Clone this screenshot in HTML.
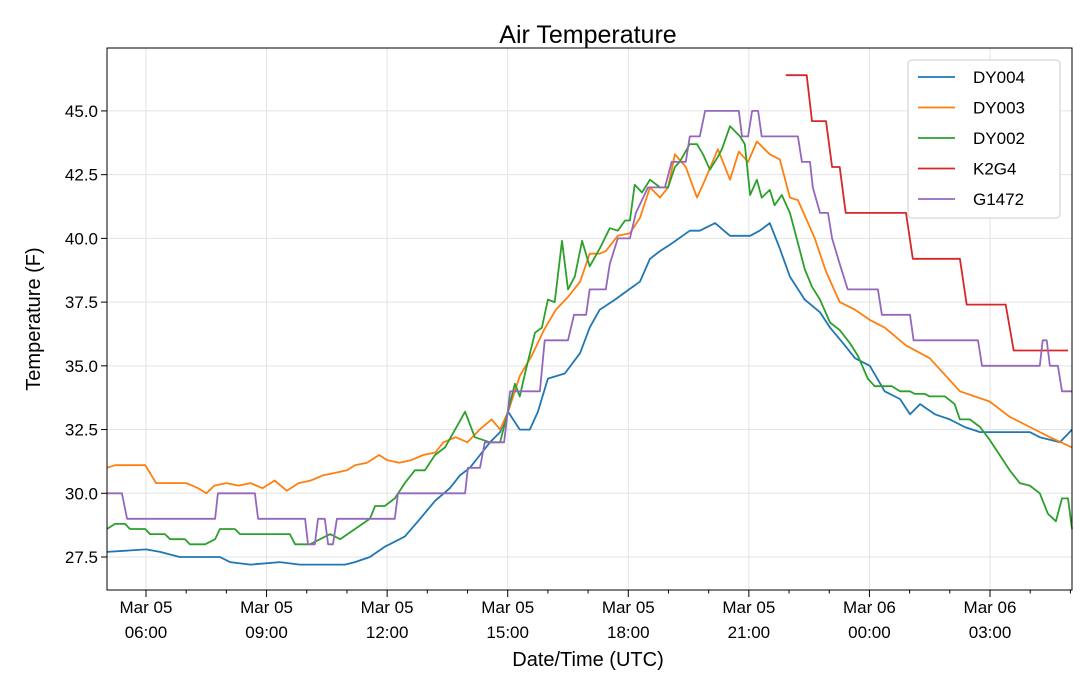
<!DOCTYPE html>
<html><head><meta charset="utf-8">
<style>
html,body{margin:0;padding:0;background:#fff;}
svg{display:block;font-family:"Liberation Sans","DejaVu Sans",sans-serif;}
</style></head>
<body>
<svg id="chart" width="1080" height="673" viewBox="0 0 1080 673" xmlns="http://www.w3.org/2000/svg">
<rect x="0" y="0" width="1080" height="673" fill="#fff"/>
<text x="588" y="43" text-anchor="middle" font-size="25">Air Temperature</text>
<text x="588" y="666" text-anchor="middle" font-size="20">Date/Time (UTC)</text>
<text transform="translate(40,319) rotate(-90)" text-anchor="middle" font-size="20">Temperature (F)</text>
<g id="grid"></g>
<g id="series"></g>
<rect x="107" y="48" width="965" height="542" fill="none" stroke="#000" stroke-width="1"/>
<g id="axes"></g>
<g id="legend"></g>
</svg>
<script>
const NS="http://www.w3.org/2000/svg";
// times in hours since Mar 05 00:00 UTC, values in °F
const dy004T=[5.03,6.0,6.35,6.84,7.84,8.09,8.6,9.33,9.83,10.95,11.2,11.57,11.94,12.44,12.82,13.19,13.56,13.81,14.06,14.31,14.56,14.81,15.01,15.3,15.55,15.75,16.0,16.42,16.8,17.04,17.29,17.67,18.02,18.29,18.54,18.79,19.08,19.53,19.78,20.16,20.53,21.03,21.27,21.52,21.77,22.02,22.39,22.77,23.02,23.39,23.64,24.01,24.38,24.76,25.01,25.26,25.63,26.0,26.37,26.75,27.24,27.99,28.24,28.74,29.04];
const dy004V=[27.7,27.8,27.7,27.5,27.5,27.3,27.2,27.3,27.2,27.2,27.3,27.5,27.9,28.3,29.0,29.7,30.2,30.7,31.0,31.5,32.0,32.4,33.2,32.5,32.5,33.2,34.5,34.7,35.5,36.5,37.2,37.6,38.0,38.3,39.2,39.5,39.8,40.3,40.3,40.6,40.1,40.1,40.3,40.6,39.6,38.5,37.6,37.1,36.5,35.8,35.3,35.0,34.0,33.7,33.1,33.5,33.1,32.9,32.6,32.4,32.4,32.4,32.2,32.0,32.5];
const dy003T=[5.03,5.23,5.98,6.1,6.25,7.0,7.3,7.5,7.7,8.0,8.3,8.6,8.9,9.2,9.5,9.8,10.1,10.4,10.7,11.0,11.2,11.5,11.8,12.0,12.3,12.6,12.9,13.2,13.4,13.7,14.0,14.3,14.6,14.81,15.01,15.3,15.6,15.9,16.2,16.5,16.8,17.04,17.29,17.44,17.74,18.04,18.29,18.54,18.79,18.99,19.16,19.43,19.71,19.91,20.23,20.53,20.75,20.98,21.2,21.52,21.77,22.02,22.22,22.64,22.92,23.26,23.64,24.01,24.38,24.91,25.5,26.25,26.99,27.49,27.99,28.49,29.04];
const dy003V=[31.0,31.1,31.1,30.8,30.4,30.4,30.2,30.0,30.3,30.4,30.3,30.4,30.2,30.5,30.1,30.4,30.5,30.7,30.8,30.9,31.1,31.2,31.5,31.3,31.2,31.3,31.5,31.6,32.0,32.2,32.0,32.5,32.9,32.5,33.2,34.6,35.4,36.4,37.2,37.7,38.3,39.4,39.4,39.5,40.1,40.2,40.8,42.0,41.6,42.0,43.3,42.8,41.6,42.3,43.5,42.3,43.4,43.0,43.8,43.3,43.1,41.6,41.5,40.0,38.7,37.5,37.2,36.8,36.5,35.8,35.3,34.0,33.6,33.0,32.6,32.2,31.8];
const dy002T=[5.03,5.23,5.48,5.6,5.98,6.1,6.47,6.6,6.97,7.09,7.47,7.72,7.84,8.21,8.34,9.58,9.71,10.08,10.33,10.58,10.83,11.2,11.57,11.7,11.94,12.19,12.44,12.69,12.94,13.19,13.44,13.69,13.94,14.18,14.56,14.81,15.18,15.3,15.43,15.68,15.85,16.0,16.17,16.35,16.5,16.67,16.85,17.04,17.29,17.54,17.74,17.92,18.04,18.16,18.34,18.54,18.79,18.99,19.16,19.28,19.53,19.71,19.86,20.03,20.23,20.33,20.53,20.78,20.9,21.03,21.2,21.32,21.52,21.64,21.82,22.02,22.19,22.39,22.57,22.77,23.02,23.26,23.51,23.71,23.96,24.13,24.56,24.76,25.01,25.13,25.38,25.5,25.88,26.12,26.25,26.5,26.75,26.99,27.24,27.49,27.74,27.99,28.24,28.44,28.64,28.79,28.94,29.04];
const dy002V=[28.6,28.8,28.8,28.6,28.6,28.4,28.4,28.2,28.2,28.0,28.0,28.2,28.6,28.6,28.4,28.4,28.0,28.0,28.2,28.4,28.2,28.6,29.0,29.5,29.5,29.8,30.4,30.9,30.9,31.5,31.8,32.5,33.2,32.2,32.0,32.0,34.3,33.8,34.7,36.3,36.5,37.6,37.5,39.9,38.0,38.5,39.9,38.9,39.6,40.4,40.3,40.7,40.7,42.1,41.8,42.3,42.0,42.0,42.8,43.0,43.7,43.7,43.3,42.7,43.2,43.5,44.4,44.0,43.7,41.7,42.3,41.6,41.9,41.3,41.7,41.0,40.0,38.8,38.1,37.6,36.7,36.4,35.9,35.4,34.5,34.2,34.2,34.0,34.0,33.9,33.9,33.8,33.8,33.5,32.9,32.9,32.6,32.1,31.5,30.9,30.4,30.3,30.0,29.2,28.9,29.8,29.8,28.6];
const k2g4T=[21.92,22.44,22.57,22.92,23.07,23.26,23.41,24.91,25.08,26.25,26.42,27.39,27.59,28.94];
const k2g4V=[46.4,46.4,44.6,44.6,42.8,42.8,41.0,41.0,39.2,39.2,37.4,37.4,35.6,35.6];
const g1472T=[5.03,5.4,5.53,7.72,7.79,8.71,8.79,9.96,10.03,10.2,10.28,10.45,10.53,10.65,10.75,12.19,12.27,13.94,14.01,14.31,14.43,14.91,15.06,15.8,15.92,16.5,16.65,16.95,17.04,17.44,17.54,17.74,18.04,18.19,18.49,18.91,19.08,19.43,19.53,19.78,19.91,20.75,20.83,20.98,21.08,21.23,21.32,22.22,22.32,22.52,22.59,22.77,22.97,23.07,23.26,23.46,24.21,24.31,25.01,25.1,26.7,26.8,28.24,28.31,28.41,28.49,28.69,28.79,29.04];
const g1472V=[30,30,29,29,30,30,29,29,28,28,29,29,28,28,29,29,30,30,31,31,32,32,34,34,36,36,37,37,38,38,39,40,40,41,42,42,43,43,44,44,45,45,44,44,45,45,44,44,43,43,42,41,41,40,39,38,38,37,37,36,36,35,35,36,36,35,35,34,34];
const seriesNames=["DY004","DY003","DY002","K2G4"," G1472"];
const seriesColors=["#1f77b4","#ff7f0e","#2ca02c","#d62728","#9467bd"];
const yTicks=[27.5,30.0,32.5,35.0,37.5,40.0,42.5,45.0];
const xTickHours=[6,9,12,15,18,21,24,27];
const xTickDates=["Mar 05","Mar 05","Mar 05","Mar 05","Mar 05","Mar 05","Mar 06","Mar 06"];
const xTickTimes=["06:00","09:00","12:00","15:00","18:00","21:00","00:00","03:00"];

const L=107,R=1072,T=48,B=590;
const xMin=5.03,xMax=29.04;
const X=h=>L+(h-xMin)/(xMax-xMin)*(R-L);
const Y=v=>557-(v-27.5)*25.49;
function mk(tag,attrs,parent){const e=document.createElementNS(NS,tag);for(const k in attrs)e.setAttribute(k,attrs[k]);parent.appendChild(e);return e;}
const grid=document.getElementById('grid'),axes=document.getElementById('axes'),ser=document.getElementById('series'),leg=document.getElementById('legend');
yTicks.forEach(v=>{
  const g=mk('line',{x1:L,x2:R,y1:Y(v),y2:Y(v),stroke:'#e3e3e3','stroke-width':1},grid);
  
  
  mk('line',{x1:L-6,x2:L,y1:Y(v),y2:Y(v),stroke:'#000'},axes);
  const t=mk('text',{x:L-9,y:Y(v)+6,'text-anchor':'end','font-size':17},axes);
  t.textContent=v.toFixed(1);
  
  
});
for(let h=6;h<=29;h++){
  if(xTickHours.indexOf(h)<0) mk('line',{x1:X(h),x2:X(h),y1:B,y2:B+3.5,stroke:'#000'},axes);
}
xTickHours.forEach((h,i)=>{
  const g=mk('line',{x1:X(h),x2:X(h),y1:T,y2:B,stroke:'#e3e3e3','stroke-width':1},grid);
  
  
  mk('line',{x1:X(h),x2:X(h),y1:B,y2:B+7,stroke:'#000'},axes);
  const t1=mk('text',{x:X(h),y:613,'text-anchor':'middle','font-size':17},axes);
  t1.textContent=xTickDates[i];
  
  
  const t2=mk('text',{x:X(h),y:638,'text-anchor':'middle','font-size':17},axes);
  t2.textContent=xTickTimes[i];
  
  
});
const allT=[dy004T,dy003T,dy002T,k2g4T,g1472T],allV=[dy004V,dy003V,dy002V,k2g4V,g1472V];
allT.forEach((ts,i)=>{
  const d=ts.map((h,j)=>(j?'L':'M')+X(h).toFixed(1)+','+Y(allV[i][j]).toFixed(1)).join(' ');
  const p=mk('path',{d:d,fill:'none',stroke:seriesColors[i],'stroke-width':1.8,'stroke-linejoin':'round'},ser);
  
  
});
const box=mk('rect',{x:908,y:60,width:152,height:158,rx:4,fill:'#fff',stroke:'#ccc'},leg);


seriesNames.forEach((n,i)=>{
  const y=77+i*30.5;
  mk('line',{x1:918,x2:955,y1:y,y2:y,stroke:seriesColors[i],'stroke-width':1.8},leg);
  const t=mk('text',{x:973,y:y+6,'font-size':17,'xml:space':'preserve'},leg);
  t.textContent=n;
  
  
});
</script>
</body></html>
